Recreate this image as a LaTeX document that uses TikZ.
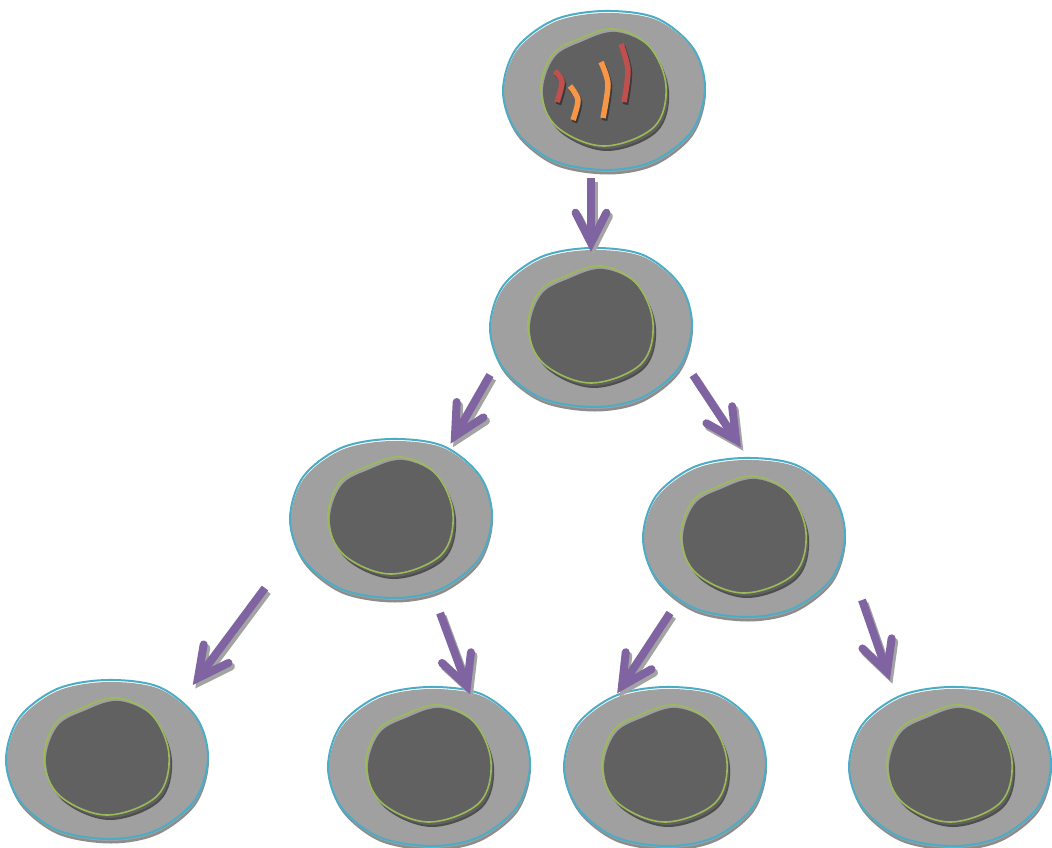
\documentclass[tikz,border=0pt]{standalone}
\usetikzlibrary{calc}
\definecolor{cellgray}{HTML}{A0A0A0}
\definecolor{cellshade}{HTML}{8C8C8C}
\definecolor{membraneblue}{HTML}{4BACC6}
\definecolor{nucgray}{HTML}{616161}
\definecolor{nucshade}{HTML}{4E4E4E}
\definecolor{envgreen}{HTML}{9BBB59}
\definecolor{arrowpurple}{HTML}{8064A2}
\definecolor{arrowshade}{HTML}{A3A3A3}
\definecolor{chromred}{HTML}{C0504D}
\definecolor{chromorange}{HTML}{F79646}
\definecolor{chromshade}{HTML}{3A3A3A}

% outline of a cell and of its nucleus, relative to the cell centre (y grows downwards)
\newcommand\outerblob{plot[smooth cycle, tension=0.55] coordinates {(0,-80) (52,-73) (89,-43) (101,-3) (88,40) (50,70) (3,79) (-50,70) (-88,40) (-101,0) (-88,-42) (-50,-71)}}
\newcommand\nucblob{plot[smooth cycle, tension=0.6] coordinates {(10,-62) (45,-45) (62,-5) (50,36) (0,55) (-47,36) (-63,0) (-52,-36) (-25,-52)}}

\tikzset{
  cellshadow/.style={fill=cellshade},
  cellbody/.style={fill=cellgray},
  membrane/.style={draw=membraneblue, line width=2pt},
  nucshadow/.style={fill=nucshade},
  nucbody/.style={fill=nucgray},
  envelope/.style={draw=envgreen, line width=1.6pt},
  cell/.pic={
    \fill[cellshadow, shift={(1,4.5)}] \outerblob;
    \fill[cellbody, shift={(0.5,2)}] \outerblob;
    \draw[membrane] \outerblob;
    \fill[nucshadow, shift={(3,5)}] \nucblob;
    \fill[nucbody, shift={(2,3)}] \nucblob;
    \draw[envelope] \nucblob;
  },
  arrowline/.style={draw=arrowpurple, line width=8pt},
  arrowhead/.style={draw=arrowpurple, line width=8pt, line cap=round, line join=miter},
  arrowshadow/.style={draw=arrowshade, transform canvas={xshift=2.5pt, yshift=-3.5pt}},
  chrom/.style={line width=5.5pt, line cap=butt},
  chromshadow/.style={draw=chromshade, line width=5.5pt, shift={(1.5,2.5)}},
}

% a division arrow: straight shaft with an open chevron tip, over a grey drop shadow
\newcommand\divarrow[2]{%
  \draw[arrowline, arrowshadow] (#1) -- (#2);
  \draw[arrowhead, arrowshadow] ($(#2)!34pt!27:(#1)$) -- (#2) -- ($(#2)!34pt!-27:(#1)$);
  \draw[arrowline] (#1) -- (#2);
  \draw[arrowhead] ($(#2)!34pt!27:(#1)$) -- (#2) -- ($(#2)!34pt!-27:(#1)$);
}

\begin{document}
\begin{tikzpicture}[x=1pt, y=-1pt]
\useasboundingbox (0,0) rectangle (1052,848);

% cell centres
\coordinate (c1) at (604,91);
\coordinate (c2) at (591,328);
\coordinate (c3) at (391,519);
\coordinate (c4) at (744,538);
\coordinate (c5) at (107,760);
\coordinate (c6) at (429,767);
\coordinate (c7) at (665,767);
\coordinate (c8) at (950,767);

\foreach \c in {c1,c2,c3,c4,c5,c6,c7,c8} \pic at (\c) {cell};

% chromosomes in the parent cell
\foreach \col/\pts in {
  chromred/{(555,71) (562,82) (557,102)},
  chromorange/{(570,86) (578,100) (573,120)},
  chromorange/{(601,62) (608,84) (603,118)},
  chromred/{(621,44) (628,70) (624,102)}}{
  \draw[chromshadow] plot[smooth] coordinates \pts;
  \draw[chrom, draw=\col] plot[smooth] coordinates \pts;
}

% arrow ends
\coordinate (a1s) at (591,178); \coordinate (a1t) at (591,243);
\coordinate (a2s) at (490,375); \coordinate (a2t) at (455,436);
\coordinate (a3s) at (693,375); \coordinate (a3t) at (736,440);
\coordinate (a4s) at (265,588); \coordinate (a4t) at (198,678);
\coordinate (a5s) at (440,613); \coordinate (a5t) at (467,686);
\coordinate (a6s) at (670,613); \coordinate (a6t) at (622,686);
\coordinate (a7s) at (862,600); \coordinate (a7t) at (887,672);

\divarrow{a1s}{a1t}
\divarrow{a2s}{a2t}
\divarrow{a3s}{a3t}
\divarrow{a4s}{a4t}
\divarrow{a5s}{a5t}
\divarrow{a6s}{a6t}
\divarrow{a7s}{a7t}
\end{tikzpicture}
\end{document}
